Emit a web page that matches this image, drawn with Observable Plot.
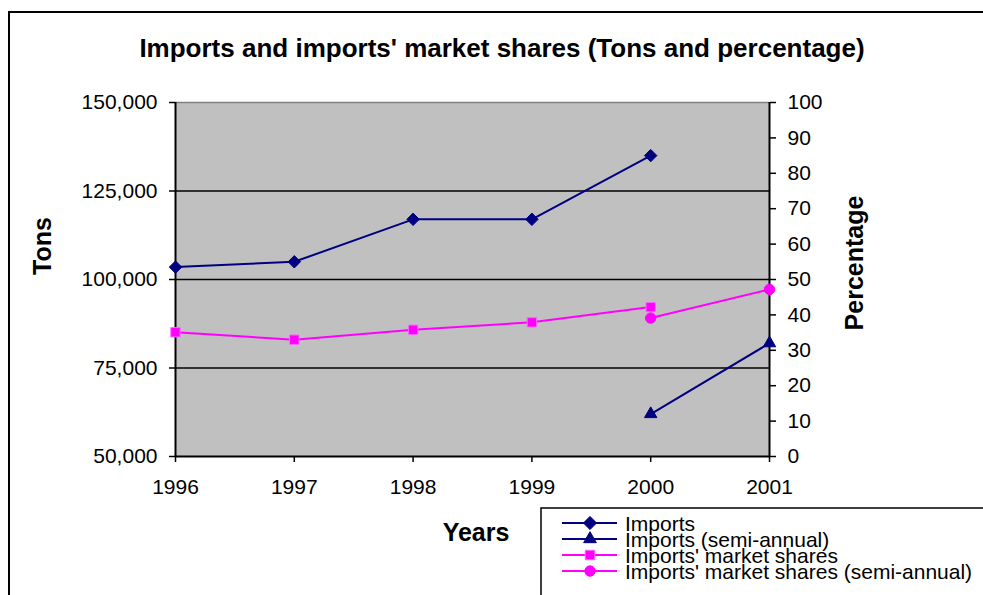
<!DOCTYPE html>
<html>
<head>
<meta charset="utf-8">
<script src="https://cdn.jsdelivr.net/npm/d3@7"></script>
<script src="https://cdn.jsdelivr.net/npm/@observablehq/plot@0.6"></script>
<style>
  html, body { margin: 0; padding: 0; background: #fff; }
  svg { display: block; }
</style>
</head>
<body>
<div id="chart"></div>
<script>
// ---- data ----
const years = [1996, 1997, 1998, 1999, 2000];
const imports = [103500, 105000, 117000, 117000, 135000];
const semiYears = [2000, 2001];
const importsSemi = [62000, 82000];
const shareYears = [1996, 1997, 1998, 1999, 2000];
const shares = [35.1, 33.0, 35.8, 37.9, 42.2];
const sharesSemi = [39.1, 47.2];
const xTicks = [1996, 1997, 1998, 1999, 2000, 2001];
const tonTicks = [50000, 75000, 100000, 125000, 150000];
const pctTicks = [0, 10, 20, 30, 40, 50, 60, 70, 80, 90, 100];
const gridTons = [75000, 100000, 125000];
const legendLabels = ["Imports", "Imports (semi-annual)", "Imports' market shares", "Imports' market shares (semi-annual)"];

// percentage -> tons position (right axis 0..100 maps left axis 50,000..150,000)
const pct = p => 50000 + p * 1000;

const navy = "#000080", magenta = "#FF00FF";

const importsData = years.map((x, i) => ({x, y: imports[i]}));
const importsSemiData = semiYears.map((x, i) => ({x, y: importsSemi[i]}));
const sharesData = shareYears.map((x, i) => ({x, y: pct(shares[i])}));
const sharesSemiData = semiYears.map((x, i) => ({x, y: pct(sharesSemi[i])}));

const font = "'Liberation Sans', Arial, sans-serif";

const chart = Plot.plot({
  width: 983,
  height: 595,
  marginLeft: 175,
  marginRight: 214,
  marginTop: 102,
  marginBottom: 139,
  style: {fontFamily: font, fontSize: "21px", color: "#000", background: "#fff"},
  x: {domain: [1996, 2001]},
  y: {domain: [50000, 150000]},
  marks: [
    Plot.frame({fill: "#c0c0c0", stroke: null}),
    Plot.ruleY([150000], {stroke: "#808080", strokeWidth: 1.5}),
    Plot.ruleY(gridTons, {stroke: "#000", strokeWidth: 1.5}),
    Plot.axisY({ticks: tonTicks, tickFormat: d3.format(","), tickSize: 6, tickPadding: 12, strokeWidth: 1.5, label: null, anchor: "left"}),
    Plot.axisY({ticks: pctTicks.map(pct), tickFormat: d => String(Math.round((d - 50000) / 1000)), tickSize: 6, tickPadding: 12, strokeWidth: 1.5, label: null, anchor: "right"}),
    Plot.axisX({ticks: xTicks, tickFormat: d => String(d), tickSize: 6, tickPadding: 17, strokeWidth: 1.5, label: null}),
    Plot.ruleX([1996], {stroke: "#000", strokeWidth: 2}),
    Plot.ruleX([2001], {stroke: "#000", strokeWidth: 2}),
    Plot.ruleY([50000], {stroke: "#000", strokeWidth: 2}),
    Plot.line(importsData, {x: "x", y: "y", stroke: navy, strokeWidth: 2}),
    Plot.dot(importsData, {x: "x", y: "y", symbol: "diamond2", r: 5.6, fill: navy, stroke: navy, strokeWidth: 1}),
    Plot.line(importsSemiData, {x: "x", y: "y", stroke: navy, strokeWidth: 2}),
    Plot.dot(importsSemiData, {x: "x", y: "y", symbol: "triangle", r: 4.6, fill: navy, stroke: navy, strokeWidth: 1}),
    Plot.line(sharesData, {x: "x", y: "y", stroke: magenta, strokeWidth: 2}),
    Plot.dot(sharesData, {x: "x", y: "y", symbol: "square", r: 5.3, fill: magenta, stroke: "#ff66ff", strokeWidth: 1}),
    Plot.line(sharesSemiData, {x: "x", y: "y", stroke: magenta, strokeWidth: 2}),
    Plot.dot(sharesSemiData, {x: "x", y: "y", symbol: "circle", r: 5.2, fill: magenta, stroke: magenta, strokeWidth: 1})
  ]
});

document.getElementById("chart").appendChild(chart);

const svg = d3.select(chart);

// outer chart border
svg.append("rect").attr("x", 9).attr("y", 12).attr("width", 1200).attr("height", 800)
  .attr("fill", "none").attr("stroke", "#000").attr("stroke-width", 2);

// titles
svg.append("text").attr("x", 502).attr("y", 57).attr("text-anchor", "middle")
  .attr("font-family", font).attr("font-size", 26).attr("font-weight", "bold")
  .text("Imports and imports' market shares (Tons and percentage)");
svg.append("text").attr("transform", "translate(51,246) rotate(-90)").attr("text-anchor", "middle")
  .attr("font-family", font).attr("font-size", 25).attr("font-weight", "bold").text("Tons");
svg.append("text").attr("transform", "translate(863,263) rotate(-90)").attr("text-anchor", "middle")
  .attr("font-family", font).attr("font-size", 25).attr("font-weight", "bold").text("Percentage");
svg.append("text").attr("x", 476).attr("y", 541).attr("text-anchor", "middle")
  .attr("font-family", font).attr("font-size", 25).attr("font-weight", "bold").text("Years");

// legend
const lg = svg.append("g");
lg.append("rect").attr("x", 541).attr("y", 508).attr("width", 600).attr("height", 200)
  .attr("fill", "#fff").attr("stroke", "#000").attr("stroke-width", 1.5);
const legendStyles = [
  {color: navy, sym: d3.symbolDiamond2, size: 110, stroke: navy},
  {color: navy, sym: d3.symbolTriangle, size: 70, stroke: navy},
  {color: magenta, sym: d3.symbolSquare, size: 90, stroke: "#ff66ff"},
  {color: magenta, sym: d3.symbolCircle, size: 85, stroke: magenta}
];
const rowY = [523, 539, 555, 571];
legendLabels.forEach((lab, i) => {
  const s = legendStyles[i];
  const y = rowY[i];
  lg.append("line").attr("x1", 562).attr("x2", 617).attr("y1", y).attr("y2", y)
    .attr("stroke", s.color).attr("stroke-width", 2);
  lg.append("path").attr("d", d3.symbol(s.sym, s.size)()).attr("transform", `translate(590,${y})`)
    .attr("fill", s.color).attr("stroke", s.stroke).attr("stroke-width", 1);
  lg.append("text").attr("x", 625).attr("y", y).attr("dy", "0.36em").attr("text-anchor", "start")
    .attr("font-family", font).attr("font-size", 21).text(lab);
});
</script>
</body>
</html>
